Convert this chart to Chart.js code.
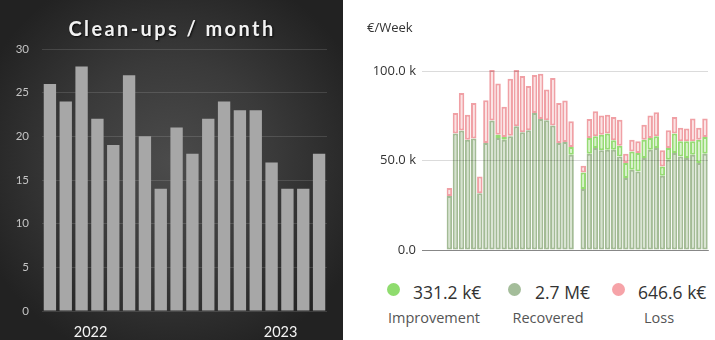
<!DOCTYPE html>
<html>
<head>
<meta charset="utf-8">
<script src="https://cdn.jsdelivr.net/npm/chart.js@4.4.0/dist/chart.umd.min.js"></script>
<style>
  html, body { margin: 0; padding: 0; width: 715px; height: 340px; overflow: hidden; background: #fff; }
  #left { position: absolute; left: 0; top: 0; width: 343px; height: 340px;
    background: radial-gradient(ellipse 60% 60% at 50% 48%, #4b4b4b 0%, #3a3a3a 50%, #222 100%); }
  #right { position: absolute; left: 343px; top: 0; width: 372px; height: 270px; }
  .dot { position: absolute; width: 13px; height: 13px; border-radius: 50%; top: 283px; }
  .val { position: absolute; top: 280px; height: 24px; line-height: 24px; font: 17.5px "Open Sans", sans-serif; color: #333; white-space: nowrap; }
  .lab { position: absolute; top: 308px; width: 120px; height: 20px; line-height: 20px; text-align: center; font: 14.5px "Open Sans", sans-serif; color: #555; }
</style>
</head>
<body>
<div id="left"><canvas id="cleanups"></canvas></div>
<div id="right"><canvas id="weekly"></canvas></div>
<div id="legend"></div>
<script>
// left chart: clean-ups per month
const months = ['2021-11', '2021-12', '2022-01', '2022-02', '2022-03', '2022-04', '2022-05', '2022-06', '2022-07',
  '2022-08', '2022-09', '2022-10', '2022-11', '2022-12', '2023-01', '2023-02', '2023-03', '2023-04'];
const cleanups = [26, 24, 28, 22, 19, 27, 20, 14, 21, 18, 22, 24, 23, 23, 17, 14, 14, 18];

// right chart: k€ per week (stack: recovered, improvement, loss)
const weeks = Array.from({ length: 47 }, (_, i) => 'W' + (i + 1));
const recovered = [null, null, null, null,
  30.3, 65.2, 66.9, 61.8, 62.4, 31.8, 59.9, 72.5, 62.7, 61.8, 63.7, 69.3, 65.9, 67.1, 76.8, 73.4, 72.7, 69.7, 59.9, 60.5, 53.4,
  null,
  34.1, 53.9, 57.1, 55.8, 56.2, 56.2, 52.4, 40.3, 44.9, 44.0, 51.5, 56.2, 57.1, 41.6, 50.6, 54.3, 52.4, 51.5, 53.4, 48.7, 53.9];
const improvement = [null, null, null, null,
  null, null, null, null, null, null, null, null, 1.9, 1.5, 0.3, null, null, null, null, null, null, null, null, null, 4.3,
  null,
  9.3, 8.8, 6.6, 8.8, 9.0, 5.2, 6.0, 8.4, 10.3, 10.3, 10.3, 6.5, 6.6, 5.2, 6.5, 10.9, 8.5, 9.4, 7.5, 13.1, 9.4];
const loss = [null, null, null, null,
  4.4, 11.6, 21.1, 14.0, 20.0, 9.4, 24.0, 28.3, 28.7, 16.9, 31.9, 31.5, 31.5, 24.7, 21.2, 25.3, 17.2, 26.7, 22.5, 23.2, 14.4,
  null,
  3.8, 10.7, 14.0, 10.7, 10.6, 13.1, 14.6, 5.2, 6.6, 6.6, 8.4, 12.6, 13.4, 9.0, 9.9, 9.3, 7.5, 7.1, 12.7, 6.6, 10.3];
const weeklyTicks = [0, 50, 100];

const seriesNames = ['Improvement', 'Recovered', 'Loss'];
const seriesTotals = ['331.2 k€', '2.7 M€', '646.6 k€'];

const letterTitle = {
  id: 'letterTitle',
  afterDraw(chart, args, opts) {
    const ctx = chart.ctx;
    ctx.save();
    ctx.font = 'bold 20px Lato';
    ctx.letterSpacing = '2.4px';
    ctx.fillStyle = '#f2f2f2';
    ctx.textAlign = 'center';
    ctx.shadowColor = 'rgba(0,0,0,0.85)';
    ctx.shadowOffsetX = 1;
    ctx.shadowOffsetY = 1;
    ctx.shadowBlur = 2;
    ctx.fillText(opts.text, opts.x, opts.y);
    ctx.restore();
  }
};

new Chart(document.getElementById('cleanups'), {
  type: 'bar',
  data: {
    labels: months,
    datasets: [{
      data: cleanups,
      backgroundColor: '#a7a7a7',
      barPercentage: 0.78,
      categoryPercentage: 1
    }]
  },
  plugins: [letterTitle],
  options: {
    responsive: true,
    maintainAspectRatio: false,
    animation: false,
    layout: { padding: { top: 49, right: 16, left: 0, bottom: 0 } },
    plugins: {
      legend: { display: false },
      tooltip: { enabled: false },
      letterTitle: { text: 'Clean-ups / month', x: 172, y: 36 }
    },
    scales: {
      x: {
        grid: { display: false },
        border: { display: false },
        ticks: {
          color: '#f4f4f4',
          font: { family: 'Lato', size: 14.5 },
          autoSkip: false,
          maxRotation: 0,
          labelOffset: 9,
          padding: 5,
          callback: (v, i) => months[i].endsWith('-01') ? months[i].slice(0, 4) : ''
        },
        afterFit(s) { s.height = 29; }
      },
      y: {
        min: 0,
        max: 30,
        ticks: { stepSize: 5, color: '#c4c4c4', font: { family: 'Lato', size: 11.5 }, padding: 13 },
        grid: { color: 'rgba(255,255,255,0.13)', drawTicks: false },
        border: { display: false },
        afterFit(s) { s.width = 42; }
      }
    }
  }
});

const colors = {
  recovered: ['#a3bb95', '#d6e2cf'],
  improvement: ['#96db74', '#d8f2cb'],
  loss: ['#f0a0a5', '#fbe3e4']
};
const seg = (data, c) => ({
  data: data,
  borderColor: c[0],
  backgroundColor: c[1],
  borderWidth: 2,
  borderSkipped: false,
  barPercentage: 0.9,
  categoryPercentage: 1
});

new Chart(document.getElementById('weekly'), {
  type: 'bar',
  data: {
    labels: weeks,
    datasets: [
      seg(recovered, colors.recovered),
      seg(improvement, colors.improvement),
      seg(loss, colors.loss)
    ]
  },
  options: {
    responsive: true,
    maintainAspectRatio: false,
    animation: false,
    layout: { padding: { top: 20, left: 24, right: 7, bottom: 0 } },
    plugins: {
      legend: { display: false },
      tooltip: { enabled: false },
      title: {
        display: true,
        text: '€/Week',
        align: 'start',
        color: '#333',
        font: { family: 'Open Sans', size: 13, weight: 'normal' },
        padding: { top: 0, bottom: 18 }
      }
    },
    scales: {
      x: {
        stacked: true,
        grid: { display: false },
        border: { display: true, color: '#9e9e9e' },
        ticks: { display: false },
        afterFit(s) { s.height = 20; }
      },
      y: {
        stacked: true,
        min: 0,
        max: 110,
        afterBuildTicks(s) { s.ticks = weeklyTicks.map(v => ({ value: v })); },
        ticks: {
          color: '#333',
          font: { family: 'Open Sans', size: 13 },
          padding: 6,
          callback: v => v === 0 ? '0.0' : v.toFixed(1) + ' k'
        },
        grid: { color: 'rgba(0,0,0,0.14)', drawTicks: false, z: 1 },
        border: { display: false },
        afterFit(s) { s.width = 55; }
      }
    }
  }
});

// legend below the weekly chart
const legendDotX = [393, 514, 618];
const legendValX = [413, 535, 638];
const legendLabX = [434, 548, 659];
const legendColors = ['#8fdc6e', '#a4bd9a', '#f6a3a8'];
const legend = document.getElementById('legend');
seriesNames.forEach((name, i) => {
  const dot = document.createElement('div');
  dot.className = 'dot';
  dot.style.left = (legendDotX[i] - 6.5) + 'px';
  dot.style.background = legendColors[i];
  const val = document.createElement('div');
  val.className = 'val';
  val.style.left = legendValX[i] + 'px';
  val.textContent = seriesTotals[i];
  const lab = document.createElement('div');
  lab.className = 'lab';
  lab.style.left = (legendLabX[i] - 60) + 'px';
  lab.textContent = name;
  legend.append(dot, val, lab);
});
</script>
</body>
</html>
